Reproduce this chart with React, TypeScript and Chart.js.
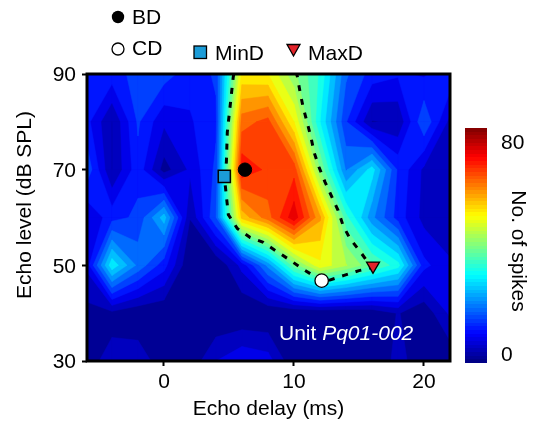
import React, { useEffect, useRef } from "react";
import { Chart, registerables } from "chart.js";

Chart.register(...registerables);

const FONT = "'Liberation Sans', Arial, sans-serif";

const delays = [-6, -4, -2, 0, 2, 4, 6, 8, 10, 12, 14, 16, 18, 20, 22];
const levels = [90, 80, 70, 60, 50, 40, 30];

const spikes90 = [12, 13, 16, 16.5, 12.5, 15.2, 56, 55, 45, 36, 19, 13, 11.5, 10.5, 14];
const spikes80 = [12.5, 3.5, 15.2, 8, 10.5, 14, 68, 71, 55, 33, 15, 3.4, 4.2, 18, 6];
const spikes70 = [18, 3.5, 13.4, 2, 8, 15.5, 76, 72.5, 72, 44, 21.5, 31, 14, 6.5, 4];
const spikes60 = [7, 13.2, 15.5, 27.5, 3.8, 18, 60, 68, 79.5, 63, 38, 23, 13, 6, 4];
const spikes50 = [8, 32, 21, 12.5, 0, 0, 8.5, 23, 42, 54, 48, 41, 34.5, 12, 8];
const spikes40 = [2.3, 2.5, 0.6, 0.3, 0, 0, 0, 0, 0, 0, 0, 0.5, 3.9, 1, 8];
const spikes30 = [2.5, 4.8, 6, 1.3, 1, 7.33, 10.5, 9, 0.5, 1.5, 2, 2, 4.3, 2.5, 0.5];
const spikeRows = [spikes90, spikes80, spikes70, spikes60, spikes50, spikes40, spikes30];

const contourDelay = [5.37, 5.33, 4.87, 4.8, 4.64, 4.95, 5.64, 6.64, 7.64, 8.56, 9.63, 10.63, 11.47, 12.16, 13.85, 15.0, 16.0, 15.08, 14.3, 13.78, 13.39, 12.93, 12.39, 11.93, 11.55, 11.32, 11.01, 10.7, 10.47, 10.25, 10.2];
const contourLevel = [90, 89.4, 77.8, 71.6, 68.6, 60.6, 57.7, 55.8, 54.8, 53.1, 51.2, 49.3, 47.9, 46.4, 47.9, 48.9, 49.5, 52.9, 55.6, 58.3, 61.5, 64.2, 67.4, 70.5, 73.6, 76.6, 79.9, 83.1, 86.2, 89.6, 90];

const bd = { x: 6.23, y: 70 };
const cd = { x: 12.13, y: 46.8 };
const minD = { x: 4.64, y: 68.6 };
const maxD = { x: 16.08, y: 49.9 };

const colorMax = 88;
const bandCount = 24;
const barSteps = 64;

const clamp = (v: number) => Math.max(0, Math.min(1, v));
function jet(t: number) {
  const r = clamp(Math.min(4 * t - 1.5, -4 * t + 4.5));
  const g = clamp(Math.min(4 * t - 0.5, -4 * t + 3.5));
  const b = clamp(Math.min(4 * t + 0.5, -4 * t + 2.5));
  return `rgb(${Math.round(r * 255)},${Math.round(g * 255)},${Math.round(b * 255)})`;
}

const heatmapPlugin = {
  id: "heatmap",
  beforeDatasetsDraw(chart: any) {
    const { ctx, chartArea, scales } = chart;
    const { x: sx, y: sy } = scales;
    ctx.save();
    ctx.beginPath();
    ctx.rect(chartArea.left, chartArea.top, chartArea.width, chartArea.height);
    ctx.clip();
    ctx.fillStyle = jet(0.5 / bandCount);
    ctx.fillRect(chartArea.left, chartArea.top, chartArea.width, chartArea.height);
    for (let k = 1; k < bandCount; k++) {
      const level = (k * colorMax) / bandCount;
      const color = jet((k + 0.5) / bandCount);
      ctx.fillStyle = color;
      ctx.strokeStyle = color;
      ctx.lineWidth = 0.5;
      ctx.lineJoin = "round";
      for (let r = 0; r < levels.length - 1; r++) {
        for (let c = 0; c < delays.length - 1; c++) {
          const corners = [
            [c, r],
            [c + 1, r],
            [c + 1, r + 1],
            [c, r + 1],
          ].map(([i, j]) => ({
            px: sx.getPixelForValue(delays[i]),
            py: sy.getPixelForValue(levels[j]),
            v: spikeRows[j][i],
          }));
          const poly: number[][] = [];
          for (let n = 0; n < 4; n++) {
            const a = corners[n];
            const b = corners[(n + 1) % 4];
            if (a.v >= level) poly.push([a.px, a.py]);
            if (a.v >= level !== b.v >= level) {
              const f = (level - a.v) / (b.v - a.v);
              poly.push([a.px + f * (b.px - a.px), a.py + f * (b.py - a.py)]);
            }
          }
          if (poly.length < 3) continue;
          ctx.beginPath();
          poly.forEach(([px, py], n) => (n ? ctx.lineTo(px, py) : ctx.moveTo(px, py)));
          ctx.closePath();
          ctx.fill();
          ctx.stroke();
        }
      }
    }
    ctx.restore();
    ctx.save();
    ctx.strokeStyle = "#000";
    ctx.lineWidth = 3;
    ctx.strokeRect(chartArea.left, chartArea.top, chartArea.width, chartArea.height);
    ctx.restore();
  },
};

const annotationPlugin = {
  id: "annotations",
  afterDraw(chart: any) {
    const { ctx } = chart;
    ctx.save();
    ctx.textBaseline = "middle";
    ctx.textAlign = "left";
    ctx.font = `21px ${FONT}`;
    ctx.strokeStyle = "#000";
    ctx.lineWidth = 1.3;

    ctx.beginPath();
    ctx.arc(118, 17, 6.2, 0, Math.PI * 2);
    ctx.fillStyle = "#000";
    ctx.fill();
    ctx.beginPath();
    ctx.arc(118, 49, 6, 0, Math.PI * 2);
    ctx.fillStyle = "#fff";
    ctx.fill();
    ctx.stroke();
    ctx.fillStyle = "#1b9cd8";
    ctx.fillRect(194, 46, 12.5, 12.5);
    ctx.strokeRect(194, 46, 12.5, 12.5);
    ctx.beginPath();
    ctx.moveTo(287, 44.5);
    ctx.lineTo(300, 44.5);
    ctx.lineTo(293.5, 56);
    ctx.closePath();
    ctx.fillStyle = "#e2232a";
    ctx.fill();
    ctx.stroke();

    ctx.fillStyle = "#000";
    ctx.fillText("BD", 132, 18);
    ctx.fillText("CD", 132, 49);
    ctx.fillText("MinD", 215, 54);
    ctx.fillText("MaxD", 308, 54);

    ctx.save();
    ctx.translate(25, 205);
    ctx.rotate(-Math.PI / 2);
    ctx.textAlign = "center";
    ctx.fillText("Echo level (dB SPL)", 0, 0);
    ctx.restore();

    ctx.fillStyle = "#fff";
    ctx.fillText("Unit ", 279, 334);
    const w = ctx.measureText("Unit ").width;
    ctx.font = `italic 21px ${FONT}`;
    ctx.fillText("Pq01-002", 279 + w, 334);
    ctx.restore();
  },
};

const barTitlePlugin = {
  id: "barTitle",
  afterDraw(chart: any) {
    const { ctx } = chart;
    ctx.save();
    ctx.font = `21px ${FONT}`;
    ctx.fillStyle = "#000";
    ctx.textAlign = "center";
    ctx.textBaseline = "middle";
    ctx.translate(518, 251);
    ctx.rotate(Math.PI / 2);
    ctx.fillText("No. of spikes", 0, 0);
    ctx.restore();
  },
};

export default function App() {
  const mainRef = useRef<HTMLCanvasElement>(null);
  const barRef = useRef<HTMLCanvasElement>(null);

  useEffect(() => {
    const tickFont = { family: FONT, size: 21 };
    const titleFont = { family: FONT, size: 21 };
    const main = new Chart(mainRef.current!, {
      type: "scatter",
      data: {
        datasets: [
          {
            label: "BD",
            data: [bd],
            pointStyle: "circle",
            pointRadius: 6.7,
            backgroundColor: "#000",
            borderColor: "#000",
          },
          {
            label: "CD",
            data: [cd],
            pointStyle: "circle",
            pointRadius: 6.7,
            backgroundColor: "#fff",
            borderColor: "#000",
            borderWidth: 1.3,
          },
          {
            label: "MinD",
            data: [minD],
            pointStyle: "rect",
            pointRadius: 8.6,
            backgroundColor: "#1b9cd8",
            borderColor: "#000",
            borderWidth: 1.5,
          },
          {
            label: "MaxD",
            data: [maxD],
            pointStyle: "triangle",
            rotation: 180,
            pointRadius: 7.5,
            backgroundColor: "#e2232a",
            borderColor: "#000",
            borderWidth: 1.3,
          },
          {
            label: "Contour",
            data: contourDelay.map((x, i) => ({ x, y: contourLevel[i] })),
            showLine: true,
            pointRadius: 0,
            borderColor: "#000",
            borderWidth: 3,
            borderDash: [6, 8],
            tension: 0,
            fill: false,
          },
        ],
      } as any,
      options: {
        animation: false,
        responsive: false,
        layout: { padding: { left: 0, top: 74, right: 84, bottom: 0 } },
        plugins: { legend: { display: false }, tooltip: { enabled: false } },
        scales: {
          x: {
            type: "linear",
            min: -5.92,
            max: 22,
            afterBuildTicks: (s: any) => {
              s.ticks = [{ value: 0 }, { value: 10 }, { value: 20 }];
            },
            afterFit: (s: any) => {
              s.height = 61;
            },
            grid: { display: true, drawOnChartArea: false, drawTicks: true, tickLength: 5, tickWidth: 2, tickColor: "#000" },
            border: { display: false },
            ticks: { color: "#000", font: tickFont, padding: 4, maxRotation: 0 },
            title: { display: true, text: "Echo delay (ms)", color: "#000", font: titleFont, padding: { top: 0, bottom: 0 } },
          },
          y: {
            type: "linear",
            min: 30,
            max: 90,
            afterBuildTicks: (s: any) => {
              s.ticks = [{ value: 30 }, { value: 50 }, { value: 70 }, { value: 90 }];
            },
            afterFit: (s: any) => {
              s.width = 87;
            },
            grid: { display: true, drawOnChartArea: false, drawTicks: true, tickLength: 5, tickWidth: 2, tickColor: "#000" },
            border: { display: false },
            ticks: { color: "#000", font: tickFont, padding: 6, labelOffset: 1.5 },
          },
        },
      },
      plugins: [heatmapPlugin, annotationPlugin],
    } as any);

    const bar = new Chart(barRef.current!, {
      type: "bar",
      data: {
        labels: ["No. of spikes"],
        datasets: [
          {
            data: [[-3.4, 85]],
            barPercentage: 1,
            categoryPercentage: 1,
            borderWidth: 0,
            borderSkipped: false,
            backgroundColor: (c: any) => {
              const area = c.chart.chartArea;
              if (!area) return "#000";
              const g = c.chart.ctx.createLinearGradient(0, area.bottom, 0, area.top);
              for (let i = 0; i < barSteps; i++) {
                const col = jet((i + 0.5) / barSteps);
                g.addColorStop(i / barSteps, col);
                g.addColorStop((i + 1) / barSteps, col);
              }
              return g;
            },
          },
        ],
      } as any,
      options: {
        animation: false,
        responsive: false,
        layout: { padding: { left: 465, top: 128, right: 0, bottom: 59 } },
        plugins: { legend: { display: false }, tooltip: { enabled: false } },
        scales: {
          x: { display: false },
          y: {
            position: "right",
            min: -3.4,
            max: 85,
            afterBuildTicks: (s: any) => {
              s.ticks = [{ value: 0 }, { value: 80 }];
            },
            afterFit: (s: any) => {
              s.width = 47;
            },
            grid: { display: false },
            border: { display: false },
            ticks: { color: "#000", font: tickFont, padding: 6, labelOffset: 1.5 },
          },
        },
      },
      plugins: [barTitlePlugin],
    } as any);

    return () => {
      main.destroy();
      bar.destroy();
    };
  }, []);

  const style: React.CSSProperties = { position: "absolute", left: 0, top: 0 };
  return (
    <div style={{ position: "absolute", left: 0, top: 0, width: 534, height: 422 }}>
      <canvas ref={mainRef} width={534} height={422} style={style} />
      <canvas ref={barRef} width={534} height={422} style={style} />
    </div>
  );
}
